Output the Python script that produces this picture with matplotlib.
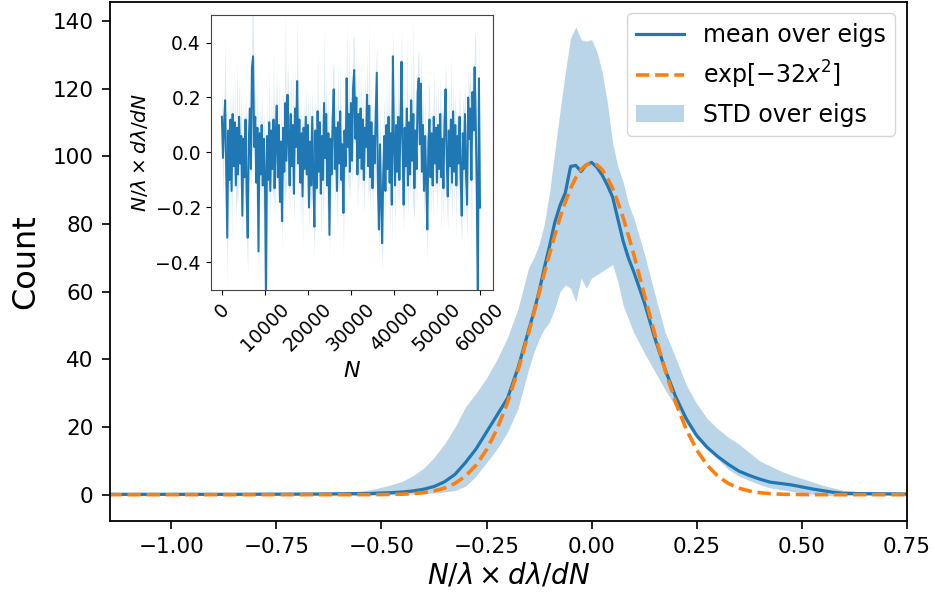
import matplotlib
matplotlib.use("Agg")
import matplotlib.pyplot as plt
import numpy as np

# ---------------- main histogram data ----------------
x_vals = [-1.15, -1.05, -0.95, -0.85, -0.75, -0.65, -0.6, -0.575, -0.55,
          -0.525, -0.5, -0.475, -0.45, -0.425, -0.4, -0.375, -0.35, -0.325, -0.3,
          -0.275, -0.25, -0.225, -0.2, -0.175, -0.15,
          -0.1375, -0.125, -0.1125, -0.1, -0.0875, -0.075, -0.0625, -0.05, -0.0375,
          -0.025, -0.0125, 0.0, 0.0125, 0.025, 0.0375, 0.05, 0.0625, 0.075, 0.0875, 0.1,
          0.125, 0.15, 0.175, 0.2, 0.225, 0.25, 0.275, 0.3, 0.325, 0.35, 0.375, 0.4,
          0.425, 0.45, 0.475, 0.5, 0.525, 0.55, 0.575, 0.6,
          0.65, 0.7, 0.75]

mean_vals = [0.1, 0.1, 0.1, 0.1, 0.15, 0.2, 0.25, 0.3, 0.3,
             0.35, 0.5, 0.6, 0.8, 1.1, 1.6, 2.4, 3.8, 6.0, 9.5, 13.5, 18.5, 23.5, 28.5, 37.5, 48.5,
             54.0, 60.0, 67.0, 73.5, 80.5, 85.5, 89.2, 97.0, 97.3, 95.5, 97.5, 98.2, 96.8, 94.5,
             91.5, 88.0, 81.5, 75.0, 70.0, 66.0,
             57.0, 46.5, 37.0, 29.0, 22.5, 17.5, 14.0, 11.3, 9.0, 7.0, 5.7, 4.6, 3.7, 3.3, 2.9,
             2.3, 1.7, 1.2, 0.7, 0.4,
             0.3, 0.25, 0.2]

upper_vals = [0.4, 0.4, 0.4, 0.4, 0.45, 0.5, 0.6, 0.8, 1.1,
              1.5, 2.2, 3.0, 4.0, 5.6, 7.8, 11.0, 15.0, 20.0, 26.0, 30.0, 34.5, 40.0, 46.5, 55.0, 67.0,
              70.0, 74.0, 80.0, 89.5, 101.5, 113.5, 125.0, 135.0, 138.3, 134.5, 134.0, 134.5, 131.0,
              125.0, 116.0, 104.0, 97.0, 92.5, 86.0, 82.0,
              71.5, 59.5, 48.0, 40.5, 32.5, 27.0, 22.5, 19.5, 17.0, 15.0, 12.5, 10.0, 8.5, 7.0, 5.8,
              4.8, 3.8, 2.8, 2.0, 1.3,
              0.7, 0.5, 0.4]

lower_vals = [-0.2, -0.2, -0.2, -0.2, -0.2, -0.2, -0.2, -0.2, -0.2,
              -0.2, -0.1, 0.0, 0.1, 0.2, 0.3, 0.5, 0.8, 1.2, 2.5, 5.5, 9.5, 13.5, 18.5, 25.5, 37.0,
              42.0, 46.0, 49.0, 51.0, 55.0, 60.0, 62.0, 61.0, 57.0, 64.0, 61.0, 64.0, 65.0, 66.0,
              67.0, 68.0, 63.0, 56.0, 52.0, 48.0,
              42.0, 36.5, 31.0, 26.0, 21.0, 16.5, 13.5, 10.5, 7.5, 5.5, 4.2, 3.0, 2.0, 1.5, 1.0,
              0.5, 0.2, -0.2, -0.3, -0.3,
              -0.2, -0.2, -0.2]

gauss_vals = [0.0, 0.0, 0.0, 0.0, 0.0, 0.0, 0.0, 0.0, 0.01,
              0.01, 0.03, 0.07, 0.15, 0.30, 0.59, 1.09, 1.94, 3.34, 5.50, 8.71, 13.26, 19.40, 27.24,
              36.78, 47.70,
              53.50, 59.40, 65.40, 71.20, 76.70, 81.90, 86.50, 90.50, 93.70, 96.10, 97.50, 98.00,
              97.50, 96.10, 93.70, 90.50, 86.50, 81.90, 76.70, 71.20,
              59.40, 47.70, 36.78, 27.24, 19.40, 13.26, 8.71, 5.50, 3.34, 1.94, 1.09, 0.59, 0.30,
              0.15, 0.07, 0.03, 0.01, 0.0, 0.0, 0.0,
              0.0, 0.0, 0.0]

# ---------------- inset data (values every 250 in N, 0 .. 60000) ----------------
inset_vals = [
    0.13, -0.02, 0.10, 0.19, -0.05, -0.31, 0.08, -0.10, 0.12, -0.14,
    0.14, -0.05, 0.11, -0.12, 0.09, -0.08, 0.13, -0.04, 0.06, -0.23,
    0.05, -0.09, 0.12, -0.15, -0.31, 0.04, 0.16, -0.06, 0.31, 0.35,
    0.02, 0.13, -0.11, 0.09, -0.36, 0.07, -0.08, 0.10, -0.12, 0.05,
    -0.08, -0.55, 0.06, -0.10, 0.11, -0.14, 0.08, -0.06, 0.12, -0.13,
    0.05, 0.17, -0.09, 0.10, -0.18, 0.04, -0.25, 0.09, -0.07, 0.18,
    -0.03, 0.21, 0.06, -0.12, 0.14, -0.05, 0.10, -0.15, 0.16, 0.02,
    0.26, -0.04, 0.12, -0.11, 0.07, -0.16, 0.09, -0.06, 0.13, -0.08,
    0.10, -0.20, 0.04, -0.12, 0.13, -0.09, -0.27, 0.08, -0.13, 0.15,
    -0.07, 0.11, -0.15, 0.06, -0.10, 0.18, -0.02, 0.14, -0.12, 0.07,
    -0.30, 0.05, -0.08, 0.12, 0.23, -0.06, 0.09, -0.14, 0.11, -0.04,
    0.15, -0.10, 0.03, -0.22, 0.08, -0.05, 0.27, 0.02, 0.14, -0.07,
    0.18, -0.03, 0.24, 0.30, 0.05, 0.20, -0.08, 0.14, -0.02, 0.16,
    -0.06, 0.12, -0.10, 0.09, 0.02, 0.21, -0.05, 0.17, -0.09, 0.11,
    -0.13, 0.06, -0.04, 0.12, 0.29, -0.10, -0.28, 0.03, -0.17, -0.33,
    -0.08, 0.06, -0.14, 0.10, -0.06, 0.13, -0.11, 0.07, -0.19, 0.35,
    0.04, -0.12, 0.10, -0.07, 0.13, -0.10, 0.08, 0.33, 0.02, -0.19,
    0.09, -0.05, 0.16, -0.12, 0.11, -0.08, 0.19, -0.03, 0.14, -0.13,
    0.08, -0.06, 0.22, 0.27, 0.03, 0.25, -0.07, 0.10, -0.14, 0.06,
    -0.10, -0.28, 0.04, 0.12, -0.09, 0.07, -0.12, 0.13, -0.04, 0.09,
    -0.11, 0.10, -0.06, 0.14, -0.09, 0.05, -0.13, 0.11, 0.23, -0.02,
    -0.16, 0.08, -0.05, 0.12, -0.11, 0.15, -0.07, 0.10, -0.12, 0.06,
    -0.04, 0.13, -0.09, -0.23, 0.07, -0.06, 0.14, -0.08, -0.19, 0.20,
    0.05, 0.16, -0.10, 0.22, 0.08, 0.31, 0.12, -0.15, -0.55, 0.27,
    -0.20]

inset_std = [
    0.10, 0.14, 0.08, 0.22, 0.12, 0.18, 0.09, 0.15, 0.11, 0.20, 0.13, 0.08, 0.16, 0.12, 0.25, 0.10, 0.14, 0.09, 0.18, 0.12,
    0.11, 0.15, 0.09, 0.19, 0.13, 0.10, 0.22, 0.08, 0.30, 0.16, 0.12, 0.14, 0.10, 0.21, 0.13, 0.09, 0.17, 0.11, 0.15, 0.10,
    0.12, 0.08, 0.16, 0.11, 0.20, 0.09, 0.14, 0.12, 0.26, 0.10, 0.15, 0.13, 0.09, 0.18, 0.11, 0.14, 0.10, 0.16, 0.12, 0.33,
    0.10, 0.13, 0.17, 0.09, 0.15, 0.12, 0.20, 0.11, 0.14, 0.10, 0.24, 0.13, 0.09, 0.16, 0.12, 0.18, 0.10, 0.14, 0.11, 0.15,
    0.13, 0.10, 0.18, 0.12, 0.09, 0.16, 0.11, 0.14, 0.10, 0.22, 0.13, 0.09, 0.17, 0.12, 0.15, 0.28, 0.10, 0.14, 0.11, 0.16,
    0.09, 0.13, 0.12, 0.19, 0.10, 0.15, 0.11, 0.14, 0.23, 0.10, 0.17, 0.12, 0.09, 0.15, 0.13, 0.10, 0.20, 0.12, 0.27, 0.11,
    0.14, 0.10, 0.18, 0.12, 0.16, 0.09, 0.13, 0.21, 0.11, 0.15, 0.10, 0.14, 0.12, 0.19, 0.10, 0.16, 0.13, 0.30, 0.11, 0.14,
    0.10, 0.15, 0.12, 0.18, 0.11, 0.13, 0.09, 0.16, 0.12, 0.10, 0.20, 0.14, 0.11, 0.17, 0.10, 0.13, 0.22, 0.12, 0.15, 0.11,
    0.12, 0.16, 0.10, 0.14, 0.21, 0.11, 0.13, 0.12, 0.18, 0.10, 0.15, 0.12, 0.26, 0.11, 0.14, 0.10, 0.17, 0.13, 0.35, 0.12,
    0.10, 0.15, 0.12, 0.11, 0.19, 0.13, 0.10, 0.16, 0.12, 0.14, 0.10, 0.12, 0.22, 0.11, 0.15, 0.10, 0.13, 0.18, 0.12, 0.14,
    0.11, 0.16, 0.10, 0.13, 0.20, 0.12, 0.14, 0.10, 0.11, 0.17, 0.12, 0.15, 0.10, 0.24, 0.13, 0.11, 0.16, 0.12, 0.19, 0.10,
    0.14, 0.12, 0.17, 0.10, 0.13, 0.21, 0.11, 0.15, 0.12, 0.10, 0.18, 0.13, 0.28, 0.11, 0.14, 0.12, 0.30, 0.13, 0.10, 0.16,
    0.12]

inset_xticks = [0, 10000, 20000, 30000, 40000, 50000, 60000]
inset_yticks = [-0.4, -0.2, 0.0, 0.2, 0.4]
main_xticks = [-1.0, -0.75, -0.5, -0.25, 0.0, 0.25, 0.5, 0.75]
main_yticks = [0, 20, 40, 60, 80, 100, 120, 140]

# ---------------- figure ----------------
fig = plt.figure(figsize=(9.34, 6.05), dpi=100)
ax = fig.add_axes([0.1178, 0.1393, 0.9708 - 0.1178, 0.9972 - 0.1393])

x = np.array(x_vals)
band = ax.fill_between(x, lower_vals, upper_vals, color='C0', alpha=0.3, lw=0,
                       label='STD over eigs')
l1, = ax.plot(x, mean_vals, color='C0', lw=2.3, label='mean over eigs')
l2, = ax.plot(x, gauss_vals, color='C1', lw=2.6, ls='--', label=r'$\exp[-32x^2]$')

ax.set_xlim(-1.146, 0.75)
ax.set_ylim(-7.7, 145.7)
ax.set_xticks(main_xticks)
ax.set_yticks(main_yticks)
ax.tick_params(labelsize=15.5, width=1.2, length=5.8, pad=6)
for s in ax.spines.values():
    s.set_linewidth(1.3)
ax.set_xlabel(r'$N/\lambda \times d\lambda/dN$', fontsize=20, labelpad=3)
ax.set_ylabel('Count', fontsize=23, labelpad=8)
ax.legend(handles=[l1, l2, band], loc='upper right', fontsize=17,
          handlelength=2.0, borderaxespad=0.5)

# ---------------- inset ----------------
axin = fig.add_axes([0.2256, 0.5207, 0.3026, 0.4545])
N = np.linspace(0, 60000, len(inset_vals))
iv = np.array(inset_vals)
isd = np.array(inset_std)
axin.fill_between(N, iv - isd, iv + isd, color='C0', alpha=0.15, lw=0)
axin.plot(N, iv, color='C0', lw=1.45)
axin.set_xlim(-2600, 63100)
axin.set_ylim(-0.5, 0.5)
axin.set_xticks(inset_xticks)
axin.set_yticks(inset_yticks)
axin.tick_params(labelsize=13.5)
for s in axin.spines.values():
    s.set_edgecolor('#444444')
plt.setp(axin.get_xticklabels(), rotation=45)
axin.set_xlabel(r'$N$', fontsize=16)
axin.set_ylabel(r'$N/\lambda \times d\lambda/dN$', fontsize=14.5)

fig.savefig('out.png', dpi=100)
